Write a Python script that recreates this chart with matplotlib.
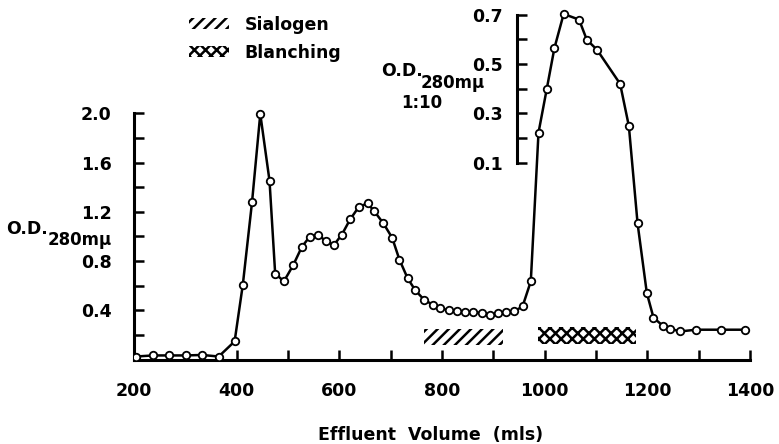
import matplotlib.pyplot as plt
from matplotlib.patches import Patch
from matplotlib.ticker import FixedLocator

# =========================
# DATA
# =========================
# effluent volume (mls) and O.D. 280 mu, in the main-axis scale
# (points above ~1.6 belong to the 1:10 inset scale: inset = (y - 1.4) / 2)
volume = [203, 237, 269, 302, 333, 365, 396, 412, 430, 446, 464, 475,
          492, 510, 527, 542, 558, 574, 589, 605, 621, 638, 655, 668,
          686, 703, 717, 733, 748, 765, 782, 797, 813, 829, 845, 861,
          878, 893, 909, 925, 941, 957, 973, 988, 1004, 1019, 1037, 1067,
          1082, 1102, 1147, 1164, 1181, 1199, 1212, 1231, 1244, 1264, 1295, 1343,
          1390]
od = [0.024, 0.033, 0.033, 0.033, 0.037, 0.024, 0.147, 0.608, 1.281, 1.995, 1.452, 0.698,
      0.635, 0.765, 0.915, 0.996, 1.015, 0.961, 0.928, 1.015, 1.138, 1.240, 1.268, 1.205,
      1.105, 0.988, 0.812, 0.660, 0.562, 0.486, 0.445, 0.418, 0.399, 0.391, 0.385, 0.385,
      0.377, 0.358, 0.377, 0.385, 0.391, 0.432, 0.635, 1.843, 2.196, 2.530, 2.807, 2.761,
      2.598, 2.516, 2.239, 1.897, 1.105, 0.540, 0.340, 0.271, 0.250, 0.228, 0.242, 0.242,
      0.242]

# fraction bands: (start, end) volume and (bottom, top) in main scale
band_names = ["Sialogen", "Blanching"]
band_start = [764, 987]
band_end = [918, 1178]
band_bottom = [0.12, 0.125]
band_top = [0.25, 0.26]
band_hatch = ["///", "xxx"]

inset_at = 946          # volume where the 1:10 scale stands
inset_ticks = [0.1, 0.2, 0.3, 0.4, 0.5, 0.6, 0.7]
inset_labels = ["0.1", "", "0.3", "", "0.5", "", "0.7"]


def to_inset(y):
    return (y - 1.4) / 2.0


# =========================
# FIGURE
# =========================
W, H = 779, 444
plt.rcParams['font.family'] = 'DejaVu Sans'
plt.rcParams['font.weight'] = 'bold'
plt.rcParams['hatch.linewidth'] = 1.8

AX_L, AX_B, AX_W, AX_H = 134, 84.5, 616, 357
fig = plt.figure(figsize=(W/100, H/100), dpi=100)
ax = fig.add_axes([AX_L/W, AX_B/H, AX_W/W, AX_H/H])

ax.plot(volume, od, color='black', lw=1.8, marker='o', ms=5.4,
        mfc='white', mec='black', mew=1.3, zorder=3)

for i in range(len(band_names)):
    ax.bar(band_start[i], band_top[i] - band_bottom[i], width=band_end[i] - band_start[i],
           bottom=band_bottom[i], align='edge', facecolor='none', edgecolor='black',
           linewidth=0, hatch=band_hatch[i])

xmin, xmax = 200, 1400
ymin, ymax = 0, 2.9
ax.set_xlim(xmin, xmax)
ax.set_ylim(ymin, ymax)

for s in ['top', 'right']:
    ax.spines[s].set_visible(False)
ax.spines['left'].set_bounds(0, 2.0)
ax.spines['left'].set_linewidth(2.2)
ax.spines['bottom'].set_linewidth(2.2)

ax.xaxis.set_major_locator(FixedLocator([200, 400, 600, 800, 1000, 1200, 1400]))
ax.xaxis.set_minor_locator(FixedLocator([500, 700, 900, 1100, 1300]))
ax.yaxis.set_major_locator(FixedLocator([0.4, 0.8, 1.2, 1.6, 2.0]))
ax.yaxis.set_minor_locator(FixedLocator([0.2, 0.6, 1.0, 1.4, 1.8]))
ax.set_yticklabels(["0.4", "0.8", "1.2", "1.6", "2.0"])
ax.tick_params(which='both', direction='in', length=7, width=1.8, labelsize=12.5)
ax.tick_params(axis='x', pad=16)
ax.tick_params(axis='y', pad=16)

ax.set_xlabel("Effluent  Volume  (mls)", fontsize=12.5, fontweight='bold')
ax.xaxis.set_label_coords(0.482, -0.185)

# 1:10 scale for the big peak, a bare axis standing inside the plot
x_in = AX_L + (inset_at - xmin) / (xmax - xmin) * AX_W
ax2 = fig.add_axes([x_in/W, AX_B/H, 1/W, AX_H/H])
ax2.patch.set_visible(False)
for s in ['top', 'right', 'bottom']:
    ax2.spines[s].set_visible(False)
ax2.set_ylim(to_inset(ymin), to_inset(ymax))
ax2.spines['left'].set_bounds(0.1, 0.7)
ax2.spines['left'].set_linewidth(2.2)
ax2.set_xticks([])
ax2.yaxis.set_major_locator(FixedLocator(inset_ticks))
ax2.set_yticklabels(inset_labels)
ax2.tick_params(direction='in', length=7, width=1.8, labelsize=12.5, pad=10)

# axis titles, set by hand like the original lettering
fig.text(6/W, 1 - 229/H, "O.D.", fontsize=12.5, va='center', ha='left')
fig.text(48/W, 1 - 240/H, "280m\u03bc", fontsize=12, va='center', ha='left')
fig.text(381/W, 1 - 71/H, "O.D.", fontsize=12.5, va='center', ha='left')
fig.text(421/W, 1 - 83/H, "280m\u03bc", fontsize=12, va='center', ha='left')
fig.text(422/W, 1 - 103/H, "1:10", fontsize=12, va='center', ha='center')

handles = [Patch(facecolor='none', edgecolor='black', linewidth=0, hatch=h) for h in band_hatch]
fig.legend(handles, band_names, loc='upper left', bbox_to_anchor=(189/W, 1 - 16/H),
           frameon=False, fontsize=12.5, handlelength=2.3, handleheight=0.6,
           handletextpad=0.9, labelspacing=0.55, borderpad=0, borderaxespad=0)

fig.savefig("out.png", dpi=100)
